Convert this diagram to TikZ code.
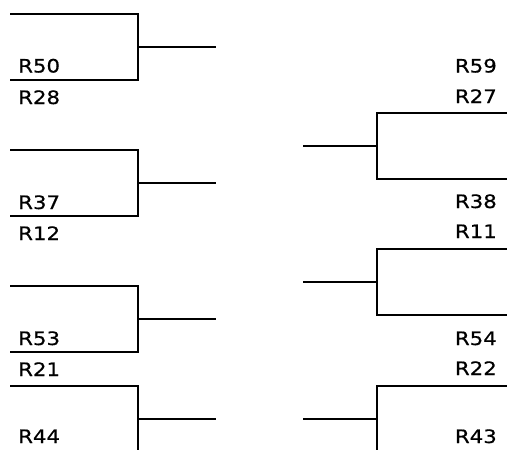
\documentclass[tikz,border=0pt]{standalone}
\usepackage{fontspec}
\setmainfont{DejaVu Sans}
\newfontfamily\lblfont{DejaVu Sans}[FakeBold=0.6]
\begin{document}
\begin{tikzpicture}[x=1pt,y=-1pt,
  wire/.style={line width=2.2pt, line cap=rect},
  lbl/.style={inner sep=0pt, font=\lblfont\fontsize{18.5}{18.5}\selectfont},
  lleft/.style={lbl, anchor=base west},
  lright/.style={lbl, anchor=base east}]
\useasboundingbox (0,0) rectangle (507,450);
\newcommand{\wl}[1]{\scalebox{1.15}[1]{#1}}
% left brackets
\foreach \n/\t/\b/\s in {1/14/80/47, 2/150/216/183, 3/286/352/319, 4/386/460/419}{
  \coordinate (lt\n) at (11,\t);
  \coordinate (lc\n) at (138,\t);
  \coordinate (ld\n) at (138,\b);
  \coordinate (lb\n) at (11,\b);
  \coordinate (ls\n) at (138,\s);
  \coordinate (le\n) at (215,\s);
}
\draw[wire] (lt1) -- (lc1) -- (ld1) -- (lb1);
\draw[wire] (lt2) -- (lc2) -- (ld2) -- (lb2);
\draw[wire] (lt3) -- (lc3) -- (ld3) -- (lb3);
\draw[wire] (lt4) -- (lc4) -- (ld4);
\foreach \n in {1,2,3,4}{\draw[wire] (ls\n) -- (le\n);}
% right brackets
\foreach \n/\t/\b/\s in {1/113/179/146, 2/249/315/282, 3/386/460/419}{
  \coordinate (rt\n) at (510,\t);
  \coordinate (rc\n) at (377,\t);
  \coordinate (rd\n) at (377,\b);
  \coordinate (rb\n) at (510,\b);
  \coordinate (rs\n) at (377,\s);
  \coordinate (re\n) at (304,\s);
}
\draw[wire] (rt1) -- (rc1) -- (rd1) -- (rb1);
\draw[wire] (rt2) -- (rc2) -- (rd2) -- (rb2);
\draw[wire] (rt3) -- (rc3) -- (rd3);
\foreach \n in {1,2,3}{\draw[wire] (rs\n) -- (re\n);}
% left labels
\node[lleft] (R50) at (18,72.5) {\wl{R50}};
\node[lleft] (R28) at (18,104) {\wl{R28}};
\node[lleft] (R37) at (18,209) {\wl{R37}};
\node[lleft] (R12) at (18,240) {\wl{R12}};
\node[lleft] (R53) at (18,345) {\wl{R53}};
\node[lleft] (R21) at (18,376) {\wl{R21}};
\node[lleft] (R44) at (18,443) {\wl{R44}};
% right labels
\node[lright] (R59) at (497,72.5) {\wl{R59}};
\node[lright] (R27) at (497,103) {\wl{R27}};
\node[lright] (R38) at (497,208) {\wl{R38}};
\node[lright] (R11) at (497,238) {\wl{R11}};
\node[lright] (R54) at (497,345) {\wl{R54}};
\node[lright] (R22) at (497,375) {\wl{R22}};
\node[lright] (R43) at (497,443) {\wl{R43}};
\end{tikzpicture}
\end{document}
